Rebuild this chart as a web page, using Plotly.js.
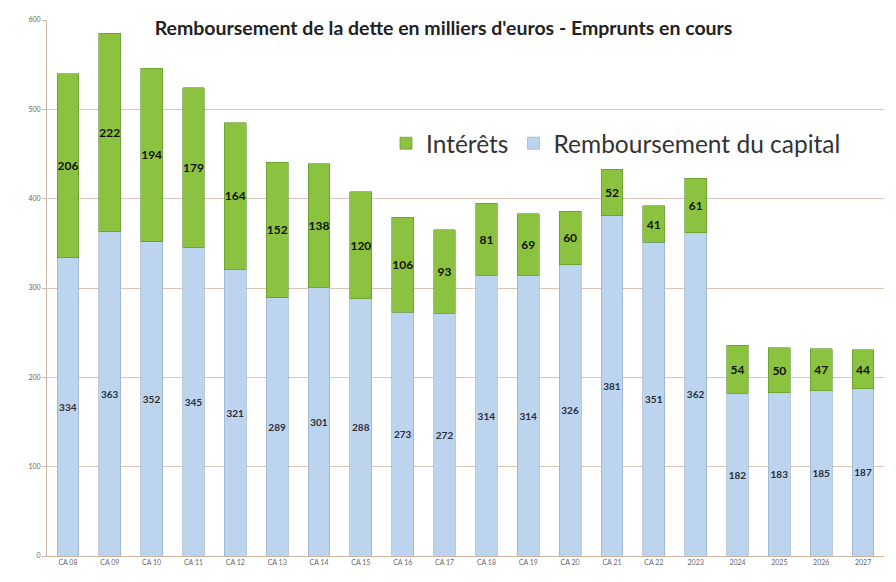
<!DOCTYPE html>
<html>
<head>
<meta charset="utf-8">
<script src="https://cdn.jsdelivr.net/npm/plotly.js-dist@3/plotly.min.js"></script>
<style>
  html, body { margin: 0; padding: 0; background: #fff; }
  #chart { width: 896px; height: 582px; }
</style>
</head>
<body>
<div id="chart"></div>
<script>
// Remboursement de la dette — empilement capital + intérêts
const years = ['CA 08', 'CA 09', 'CA 10', 'CA 11', 'CA 12', 'CA 13', 'CA 14', 'CA 15', 'CA 16', 'CA 17',
  'CA 18', 'CA 19', 'CA 20', 'CA 21', 'CA 22', '2023', '2024', '2025', '2026', '2027'];
const capital = [334, 363, 352, 345, 321, 289, 301, 288, 273, 272, 314, 314, 326, 381, 351, 362, 182, 183, 185, 187];
const interets = [206, 222, 194, 179, 164, 152, 138, 120, 106, 93, 81, 69, 60, 52, 41, 61, 54, 50, 47, 44];
const yTicks = [0, 100, 200, 300, 400, 500, 600];

const FONT = 'Lato, "Open Sans", "Liberation Sans", sans-serif';

const traces = [
  {
    type: 'bar', name: 'Remboursement du capital', x: years, y: capital,
    text: capital.map(String), textposition: 'inside', insidetextanchor: 'middle',
    textangle: 0, constraintext: 'none',
    textfont: { family: FONT, size: 10, color: '#2a2f3a', weight: 'bold' },
    marker: { color: '#bdd4ee', line: { color: '#8fa6bf', width: 0.6 } },
  },
  {
    type: 'bar', name: 'Intérêts', x: years, y: interets,
    text: interets.map(String), textposition: 'inside', insidetextanchor: 'middle',
    textangle: 0, constraintext: 'none',
    textfont: { family: FONT, size: 12, color: '#111', weight: 'bold' },
    marker: { color: '#8bc340', line: { color: '#5e8f2a', width: 0.6 } },
  },
];

const layout = {
  width: 896, height: 582,
  margin: { l: 47, r: 12, t: 20, b: 26 },
  barmode: 'stack', bargap: 0.48,
  paper_bgcolor: '#fff', plot_bgcolor: '#fff',
  font: { family: FONT, color: '#555' },
  title: {
    text: "Remboursement de la dette en milliers d'euros - Emprunts en cours",
    font: { family: FONT, size: 19.5, color: '#222', weight: 'bold' },
    x: 0.495, xanchor: 'center', y: 0.952, yanchor: 'middle',
  },
  xaxis: {
    type: 'category', tickfont: { size: 7, color: '#666' },
    showline: true, linecolor: '#cdb5a6', ticks: '', showgrid: false,
  },
  yaxis: {
    range: [0, 600], tickvals: yTicks, tickfont: { size: 7, color: '#666' },
    gridcolor: '#dcc5b6', gridwidth: 1, showline: true, linecolor: '#cdb5a6',
    zeroline: false, ticks: 'outside', ticklen: 4, tickcolor: '#cdb5a6',
  },
  showlegend: true,
  legend: {
    orientation: 'h', traceorder: 'reversed', x: 0.405, y: 0.77, xanchor: 'left', yanchor: 'middle',
    font: { family: FONT, size: 24.5, color: '#333' }, bgcolor: 'rgba(255,255,255,0)',
    itemwidth: 30,
  },
};

Plotly.newPlot('chart', traces, layout, { displayModeBar: false, staticPlot: true });
</script>
</body>
</html>
